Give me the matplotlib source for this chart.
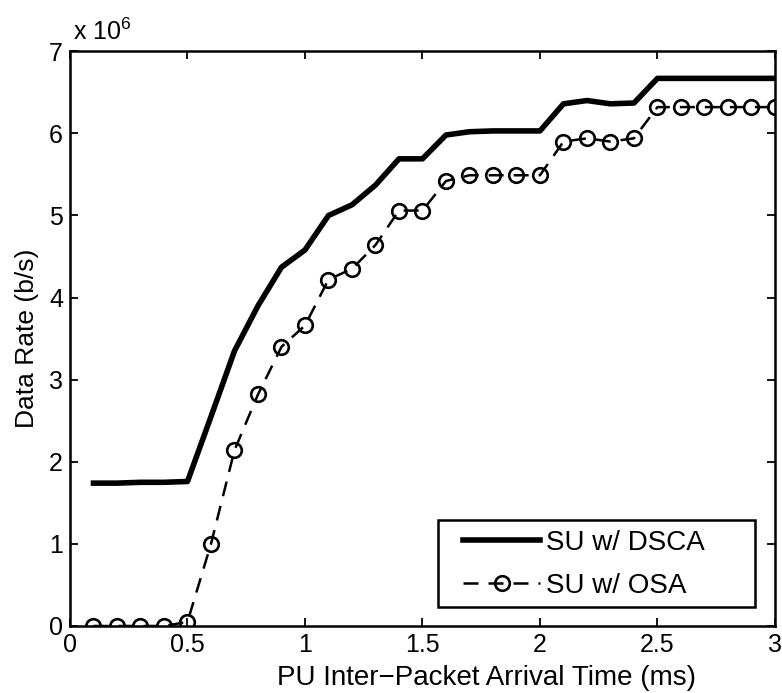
import matplotlib
matplotlib.use("Agg")
import matplotlib.pyplot as plt
from matplotlib.patches import Rectangle

# PU inter-packet arrival time (ms)
arrival_ms = [0.1, 0.2, 0.3, 0.4, 0.5, 0.6, 0.7, 0.8, 0.9, 1.0,
              1.1, 1.2, 1.3, 1.4, 1.5, 1.6, 1.7, 1.8, 1.9, 2.0,
              2.1, 2.2, 2.3, 2.4, 2.5, 2.6, 2.7, 2.8, 2.9, 3.0]

# data rate in units of 10^6 b/s
rate_dsca = [1.74, 1.74, 1.75, 1.75, 1.76, 2.55, 3.35, 3.90, 4.37, 4.58,
             5.00, 5.13, 5.37, 5.69, 5.69, 5.98, 6.02, 6.03, 6.03, 6.03,
             6.36, 6.40, 6.36, 6.37, 6.67, 6.67, 6.67, 6.67, 6.67, 6.67]
rate_osa = [0.0, 0.0, 0.0, 0.0, 0.05, 1.00, 2.14, 2.82, 3.40, 3.66,
            4.22, 4.35, 4.64, 5.06, 5.06, 5.42, 5.49, 5.49, 5.49, 5.49,
            5.90, 5.94, 5.90, 5.94, 6.32, 6.32, 6.32, 6.32, 6.32, 6.32]

plt.rcParams["font.family"] = ["Liberation Sans", "DejaVu Sans"]
plt.rcParams["mathtext.fontset"] = "custom"
plt.rcParams["mathtext.rm"] = "Liberation Sans"

fig = plt.figure(figsize=(7.82, 6.93), dpi=100)
ax = fig.add_axes([0.0895, 0.0967, 0.9015, 0.8293])

ax.plot(arrival_ms, rate_dsca, color="black", lw=4.0, label="SU w/ DSCA")
ax.plot(arrival_ms, rate_osa, color="black", lw=1.8, ls=(0, (6, 4)),
        marker="o", markersize=10.5, markerfacecolor="none",
        markeredgewidth=1.9, label="SU w/ OSA")

ax.set_xlim(0, 3)
ax.set_ylim(0, 7)
ax.set_xticks([0, 0.5, 1, 1.5, 2, 2.5, 3])
ax.set_xticklabels(["0", "0.5", "1", "1.5", "2", "2.5", "3"])
ax.set_yticks(range(8))
ax.tick_params(direction="in", top=True, right=True, length=6, width=1.3,
               labelsize=18, pad=5)
for sp in ax.spines.values():
    sp.set_linewidth(1.8)

ax.set_xlabel("PU Inter\u2212Packet Arrival Time (ms)", fontsize=20)
ax.xaxis.set_label_coords(0.591, -0.068)
ax.set_ylabel("Data Rate (b/s)", fontsize=19, labelpad=7)
ax.text(0.004, 1.019, r"x 10$^{\mathrm{6}}$", transform=ax.transAxes,
        fontsize=18, ha="left", va="baseline")

# legend entries without their own frame; box drawn separately so the
# right-hand margin can be wider than the left one
leg = ax.legend(loc="upper left", bbox_to_anchor=(0.557, 0.167),
                borderaxespad=0, borderpad=0, fontsize=20, frameon=False,
                handlelength=2.8, handletextpad=0.2, labelspacing=0.6)
ax.add_patch(Rectangle((0.522, 0.033), 0.45, 0.151, transform=ax.transAxes,
                       facecolor="white", edgecolor="black", lw=1.8,
                       zorder=4.9))
leg.set_zorder(5)

fig.savefig("out.png", dpi=100)
